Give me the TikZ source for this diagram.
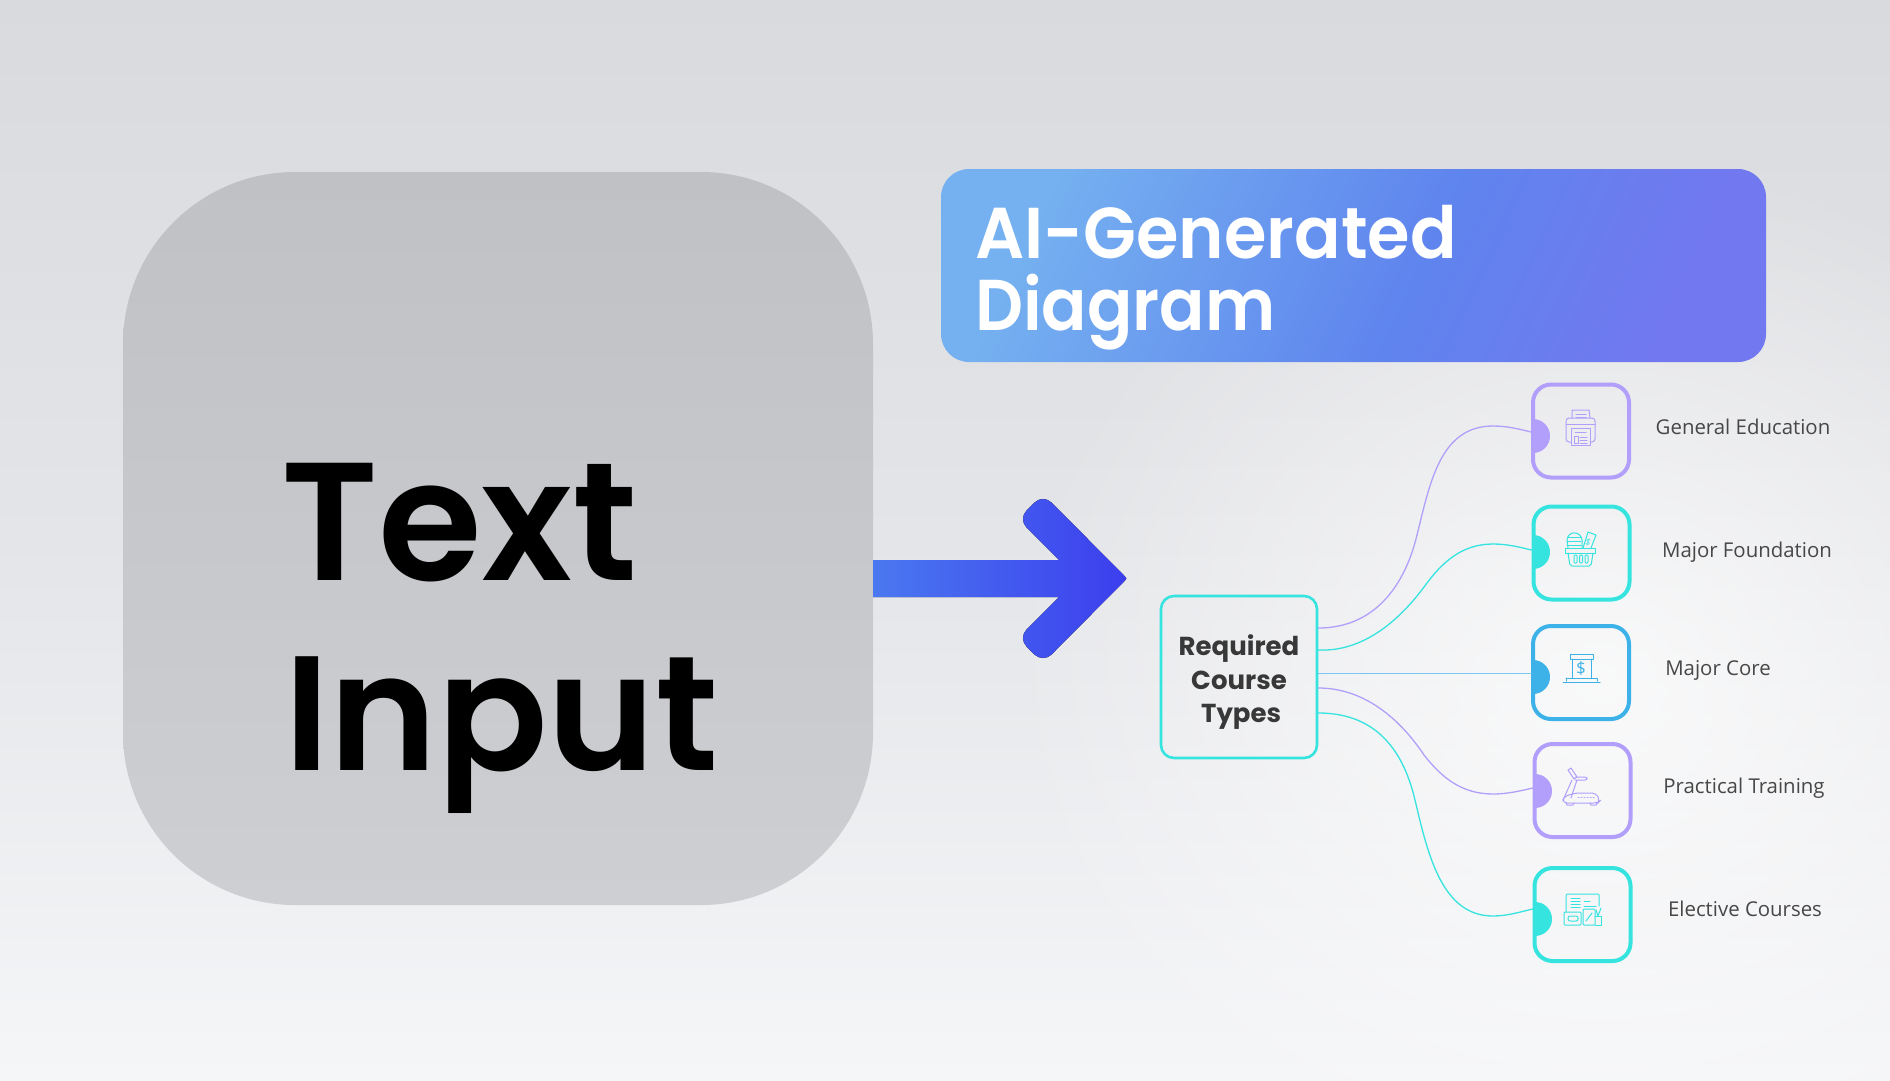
\documentclass[tikz,border=0pt]{standalone}
\usepackage{fontspec}
\usetikzlibrary{fadings,calc}
\setmainfont{Open Sans}
\newfontfamily\semifont{Poppins SemiBold}
\newfontfamily\boldfont{Poppins}[BoldFont={Poppins Bold}]
\definecolor{cpurple}{HTML}{B19FFB}
\definecolor{cteal}{HTML}{35E3DF}
\definecolor{cblue}{HTML}{3DB2E8}
\definecolor{ta}{HTML}{75B1F0}
\definecolor{tb}{HTML}{5F84EE}
\definecolor{tc}{HTML}{7278F0}
\pgfdeclareverticalshading{titleshade}{100bp}{color(0bp)=(tc); color(25bp)=(tc); color(45bp)=(tb); color(75bp)=(ta); color(100bp)=(ta)}
\tikzfading[name=glowfade, inner color=transparent!25, outer color=transparent!100]
\tikzset{
  x=1pt,y=-1pt,
  card/.style={draw=#1, line width=4pt, rounded corners=18pt, minimum width=96pt, minimum height=93pt, inner sep=0pt, fill=none},
  link/.style={draw=#1, line width=1.3pt, line cap=round},
  tag/.style={font=\fontsize{20.4}{25}\selectfont, text=black!72, inner sep=0pt, anchor=center},
  glyph/.style={draw=#1, line width=1pt, line join=round, line cap=round, fill=none},
  bigword/.style={font=\semifont\fontsize{168}{168}\selectfont, text=black, anchor=base west, inner sep=0pt},
  titleword/.style={font=\semifont\fontsize{72}{72}\selectfont, text=white, anchor=base west, inner sep=0pt},
}
\begin{document}
\begin{tikzpicture}
\useasboundingbox (0,0) rectangle (1890,1080);
\clip (0,0) rectangle (1890,1080);
% background
\fill[top color={rgb,255:red,217;green,218;blue,221}, bottom color={rgb,255:red,245;green,246;blue,248}, middle color={rgb,255:red,228;green,229;blue,232}] (0,0) rectangle (1890,1080);
\fill[white, path fading=glowfade] (1000,150) rectangle (2200,1210);
% text input card
\node[draw=none, inner sep=0pt, minimum width=750pt, minimum height=733pt, rounded corners=172pt,
      top color={rgb,255:red,192;green,193;blue,196}, bottom color={rgb,255:red,206;green,207;blue,210}] (inputcard) at (498,538.5) {};
\node[bigword] (w1) at (281,580) {Text};
\node[bigword, font=\semifont\fontsize{163}{163}\selectfont] (w2) at (284,770) {Input};
% title
\node[draw=none, inner sep=0pt, minimum width=825pt, minimum height=193pt, rounded corners=28pt,
      shading=titleshade, shading angle=65] (titlebox) at (1353.5,265.5) {};
\node[titleword] (t1) at (975,258) {\scalebox{.955}[1]{AI-Generated}};
\node[titleword] (t2) at (975,330) {\scalebox{.93}[1]{Diagram}};
% arrow
\fill[left color={rgb,255:red,74;green,120;blue,240}, right color={rgb,255:red,60;green,62;blue,238}]
  (inputcard.east |- 0,560) -- (1059,560) -- (1026.5,527.5) .. controls (1021.8,522.8) and (1021.8,515.2) .. (1026.5,510.5)
  -- (1034.5,502.5) .. controls (1039.2,497.8) and (1046.8,497.8) .. (1051.5,502.5)
  -- (1124,575.5) .. controls (1127,578.5) .. (1124,581.5)
  -- (1051.5,654.5) .. controls (1046.8,659.2) and (1039.2,659.2) .. (1034.5,654.5)
  -- (1026.5,646.5) .. controls (1021.8,641.8) and (1021.8,634.2) .. (1026.5,629.5)
  -- (1059,597) -- (inputcard.east |- 0,597) -- cycle;
% centre node
\node[draw=cteal, line width=2.6pt, rounded corners=13pt, minimum width=156pt, minimum height=162pt, inner sep=0pt,
      align=center, text=black!78, font=\boldfont\bfseries\fontsize{26}{33.5}\selectfont] (req) at (1239,677) {\rule{0pt}{31pt}Required\\Course\\\,Types};
% cards
\node[card=cpurple] (c1) at (1581,431) {};
\node[card=cteal] (c2) at (1581.5,553) {};
\node[card=cblue] (c3) at (1581,672.5) {};
\node[card=cpurple] (c4) at (1582.5,790.5) {};
\node[card=cteal] (c5) at (1582.5,914.5) {};
% tabs
\begin{scope}
\fill[cpurple] (1533,419) arc[start angle=-90,end angle=90,radius=17] -- cycle;
\fill[cteal] (1533,535) arc[start angle=-90,end angle=90,radius=17] -- cycle;
\fill[cblue] (1533,660) arc[start angle=-90,end angle=90,radius=17] -- cycle;
\fill[cpurple] (1535,774) arc[start angle=-90,end angle=90,radius=17] -- cycle;
\fill[cteal] (1535,902) arc[start angle=-90,end angle=90,radius=17] -- cycle;
\end{scope}
% connector ports
\coordinate (r1) at (req.east |- 0,628);
\coordinate (r2) at (req.east |- 0,650);
\coordinate (r3) at (req.east |- 0,673.5);
\coordinate (r4) at (req.east |- 0,688);
\coordinate (r5) at (req.east |- 0,713);
\coordinate (e1) at (c1.west |- 0,432);
\coordinate (e2) at (c2.west |- 0,550);
\coordinate (e3) at (c3.west |- 0,673.5);
\coordinate (e4) at (c4.west |- 0,788);
\coordinate (e5) at (c5.west |- 0,909);
\draw[link=cpurple] (r1) .. controls (1375,628) and (1405,585) .. (1417,535) .. controls (1430,483) and (1440,426) .. (1493,426) .. controls (1507,426) and (1519,429) .. (e1);
\draw[link=cteal] (r2) .. controls (1362,652) and (1398,622) .. (1424,587) .. controls (1442,562) and (1462,544) .. (1493,544) .. controls (1507,544) and (1519,547) .. (e2);
\draw[link=cblue!70!white, line width=1pt] (r3) -- (e3);
\draw[link=cpurple] (r4) .. controls (1362,688) and (1398,716) .. (1424,755) .. controls (1442,778) and (1462,794) .. (1493,794) .. controls (1507,794) and (1520,791) .. (e4);
\draw[link=cteal] (r5) .. controls (1372,713) and (1402,745) .. (1415,800) .. controls (1428,855) and (1442,916) .. (1493,916) .. controls (1507,916) and (1520,912) .. (e5);
% labels
\node[tag] (l1) at (1743,427) {General Education};
\node[tag] (l2) at (1747,552) {Major Foundation};
\node[tag] (l3) at (1718,670) {Major Core};
\node[tag] (l4) at (1744,788) {Practical Training};
\node[tag] (l5) at (1745,909) {Elective Courses};
% printer icon
\begin{scope}[glyph=cpurple]
\draw (1572,418) -- (1572,410) -- (1589,410) -- (1590,418);
\draw (1576,414) -- (1586,414) (1576,417) -- (1586,417);
\draw[rounded corners=3pt] (1571,442) -- (1566,442) -- (1566,418) -- (1595,418) -- (1595,442) -- (1590,442);
\draw (1566,424) -- (1595,424);
\draw (1571,428) rectangle (1590,445);
\draw (1575,432) -- (1586,432);
\draw (1574,436) rectangle (1578,443);
\draw (1580,437) -- (1587,437) (1580,440) -- (1587,440) (1580,443) -- (1587,443);
\end{scope}
% basket icon
\begin{scope}[glyph=cteal]
\draw (1565,548) -- (1595,548) -- (1595,553) -- (1565,553) -- cycle;
\draw[rounded corners=2pt] (1568,553) -- (1570,566) -- (1591,566) -- (1593,553);
\draw[rounded corners=1pt] (1574,555) rectangle (1577,563) (1579.5,555) rectangle (1582.5,563) (1585,555) rectangle (1588,563);
\draw (1568,548) -- (1567,540) .. controls (1568,530) and (1581,531) .. (1582,540) -- (1582,548);
\draw (1568,537) -- (1581,537) (1567,541) -- (1581,541) (1567,545) -- (1581,545);
\draw (1583,548) -- (1588,532) -- (1596,535) -- (1591,548);
\node[inner sep=0pt, text=cteal, font=\fontsize{9}{9}\selectfont, rotate=-20] at (1588,542) {\$};
\end{scope}
% bank icon
\begin{scope}[glyph=cblue]
\draw (1570,654) rectangle (1593,659);
\draw (1572,659) -- (1572,678) (1591,659) -- (1591,678);
\draw (1566,678) -- (1597,678) -- (1597,681) (1566,678) -- (1566,681);
\draw (1563,682) -- (1600,682);
\node[inner sep=0pt, text=cblue, font=\fontsize{17}{17}\selectfont] at (1581,669) {\$};
\end{scope}
% treadmill icon
\begin{scope}[glyph=cpurple]
\draw (1572,780) -- (1563,800) (1577,780) -- (1571,798);
\draw (1568,770) -- (1571,768) -- (1577,777) -- (1574,779) -- cycle;
\draw[rounded corners=2pt] (1575,777) -- (1587,777) -- (1587,780) -- (1575,780);
\draw[rounded corners=4pt] (1563,803) -- (1563,797) -- (1575,793) -- (1596,793) -- (1600,801) -- (1598,803) -- cycle;
\draw[dotted] (1578,797) -- (1594,797);
\draw (1566,803) -- (1567,805) -- (1573,805) -- (1574,803) (1590,803) -- (1591,805) -- (1596,805) -- (1597,803);
\end{scope}
% form icon
\begin{scope}[glyph=cteal]
\draw[rounded corners=1pt] (1566,912) -- (1566,894) -- (1599,894) -- (1599,906);
\draw (1571,898) -- (1580,898) (1571,901) -- (1580,901) (1571,904) -- (1580,904) (1571,907) -- (1580,907);
\draw (1584,901) -- (1590,901) (1584,906) -- (1596,906);
\draw[rounded corners=1pt] (1564,912) rectangle (1581,925);
\draw[rounded corners=2pt] (1568,916) rectangle (1578,921);
\draw[rounded corners=1pt] (1583,909) rectangle (1595,925);
\draw (1586,921) -- (1592,913);
\draw (1595,916) -- (1601,916) -- (1601,925) -- (1595,925);
\draw (1596,910) -- (1598,916) -- (1601,908);
\end{scope}
\end{tikzpicture}
\end{document}
